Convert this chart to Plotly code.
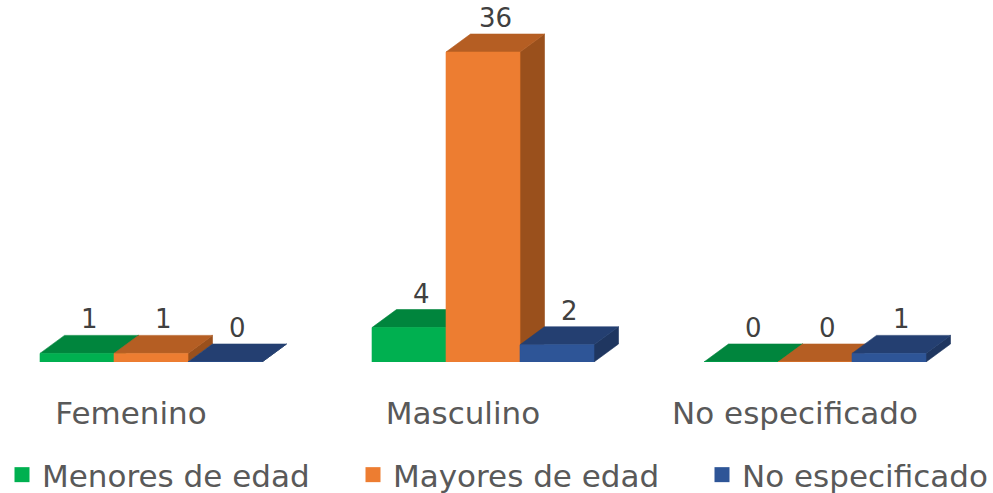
import plotly.graph_objects as go

categories = ["Femenino", "Masculino", "No especificado"]
series_names = ["Menores de edad", "Mayores de edad", "No especificado"]
menores = [1, 4, 0]
mayores = [1, 36, 0]
no_especificado = [0, 2, 1]

values = [menores, mayores, no_especificado]

front_colors = ["#00B050", "#ED7D31", "#2E5597"]
top_colors = ["#00853D", "#B55E23", "#243F71"]
side_colors = ["#007035", "#9A501C", "#1F3660"]

W = 993
H = 493
px_per_cat = 332.0
left_center_px = 151.0
baseline_px = 362.0
px_per_unit = 8.61

bar_w = 74.0 / px_per_cat
dx = 24.5 / px_per_cat
dy = 18.0 / px_per_unit

x0 = -left_center_px / px_per_cat
x1 = x0 + W / px_per_cat
y_top = baseline_px / px_per_unit

fig = go.Figure()


def poly_trace(xs, ys, color):
    return go.Scatter(
        x=xs, y=ys, mode="lines", fill="toself", fillcolor=color,
        line=dict(color=color, width=0.6), hoverinfo="skip", showlegend=False,
    )


annotations = []
for s, vals in enumerate(values):
    sx, sy, tx, ty, fx, fy = [], [], [], [], [], []
    for c, v in enumerate(vals):
        xl = c + (s - 1.5) * bar_w
        xr = xl + bar_w
        sx += [xr, xr, xr + dx, xr + dx, xr, None]
        sy += [0, v, v + dy, dy, 0, None]
        tx += [xl, xl + dx, xr + dx, xr, xl, None]
        ty += [v, v + dy, v + dy, v, v, None]
        fx += [xl, xl, xr, xr, xl, None]
        fy += [0, v, v, 0, 0, None]
        annotations.append(dict(
            x=(xl + xr) / 2 + dx / 2, y=v + dy, yshift=16,
            text=str(v), showarrow=False, xanchor="center", yanchor="middle",
            font=dict(family="DejaVu Sans", size=26, color="#404040"),
        ))
    fig.add_trace(poly_trace(sx, sy, side_colors[s]))
    fig.add_trace(poly_trace(tx, ty, top_colors[s]))
    fig.add_trace(poly_trace(fx, fy, front_colors[s]))

legend_ids = ["legend", "legend2", "legend3"]
legend_x_px = [2, 353, 702]
for s, name in enumerate(series_names):
    fig.add_trace(go.Scatter(
        x=[None], y=[None], mode="markers", name=name, legend=legend_ids[s],
        marker=dict(symbol="square", size=15, color=front_colors[s]),
    ))

legend_y = (baseline_px - 475.0) / baseline_px
legend_common = dict(
    orientation="h", xanchor="left", y=legend_y, yanchor="middle",
    font=dict(family="DejaVu Sans", size=31, color="#595959"),
    bgcolor="rgba(0,0,0,0)", itemwidth=30,
)

fig.update_layout(
    width=W, height=H,
    margin=dict(l=0, r=0, t=0, b=H - baseline_px, autoexpand=False),
    plot_bgcolor="white", paper_bgcolor="white",
    showlegend=True,
    legend=dict(x=legend_x_px[0] / W, **legend_common),
    legend2=dict(x=legend_x_px[1] / W, **legend_common),
    legend3=dict(x=legend_x_px[2] / W, **legend_common),
    xaxis=dict(
        range=[x0, x1], showgrid=False, zeroline=False, showline=False,
        tickvals=[0, 1, 2], ticktext=categories, ticks="",
        ticklabelshift=-20, ticklabelstandoff=30,
        tickfont=dict(family="DejaVu Sans", size=31, color="#595959"),
        fixedrange=True,
    ),
    yaxis=dict(
        range=[0, y_top], showgrid=False, zeroline=False, showline=False,
        showticklabels=False, fixedrange=True,
    ),
    annotations=annotations,
)

fig.write_html(
    "out.html",
    config={"displayModeBar": False},
    post_script="document.body.style.margin='0';document.body.style.overflow='hidden';",
)
